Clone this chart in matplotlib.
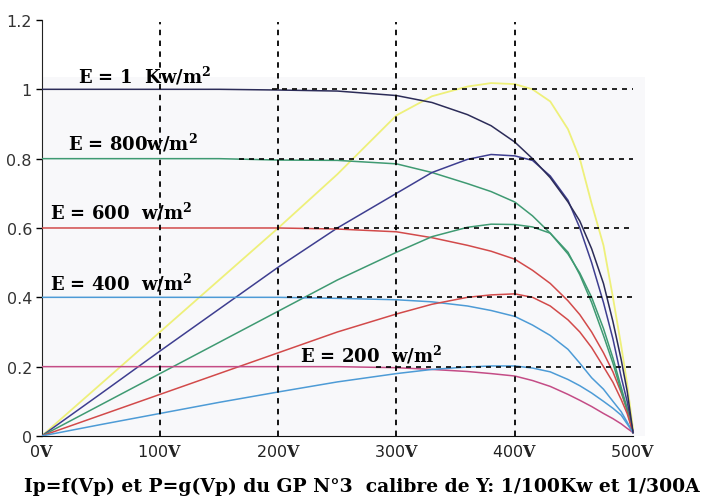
import matplotlib
matplotlib.use("Agg")
import matplotlib.pyplot as plt
from matplotlib.patches import Rectangle

plt.rcParams['mathtext.fontset'] = 'dejavuserif'

# ---- data ----
V = [0, 50, 100, 150, 200, 250, 300, 330, 360, 380, 400, 415, 430, 445, 455, 465, 475, 483, 490, 495, 500]

I_1000 = [1.0, 1.0, 1.0, 1.0, 0.998, 0.995, 0.982, 0.962, 0.927, 0.895, 0.848, 0.80, 0.745, 0.675, 0.62, 0.54, 0.44, 0.33, 0.22, 0.13, 0.01]
P_1000 = [0, 0.15, 0.30, 0.45, 0.60, 0.755, 0.925, 0.98, 1.008, 1.018, 1.015, 1.0, 0.965, 0.885, 0.80, 0.67, 0.55, 0.40, 0.26, 0.15, 0.02]
I_800 = [0.8, 0.8, 0.8, 0.8, 0.796, 0.795, 0.785, 0.76, 0.728, 0.705, 0.675, 0.635, 0.585, 0.525, 0.47, 0.40, 0.31, 0.225, 0.14, 0.08, 0.01]
P_800 = [0, 0.122, 0.245, 0.366, 0.487, 0.60, 0.70, 0.76, 0.798, 0.812, 0.808, 0.795, 0.75, 0.68, 0.60, 0.50, 0.385, 0.28, 0.17, 0.10, 0.01]
I_600 = [0.6, 0.6, 0.6, 0.6, 0.6, 0.597, 0.589, 0.572, 0.55, 0.533, 0.51, 0.478, 0.44, 0.39, 0.35, 0.30, 0.24, 0.185, 0.125, 0.075, 0.01]
P_600 = [0, 0.09, 0.18, 0.27, 0.36, 0.45, 0.53, 0.575, 0.602, 0.611, 0.61, 0.603, 0.585, 0.53, 0.465, 0.385, 0.29, 0.21, 0.13, 0.075, 0.01]
I_400 = [0.4, 0.4, 0.4, 0.4, 0.4, 0.397, 0.393, 0.387, 0.375, 0.362, 0.345, 0.32, 0.29, 0.25, 0.21, 0.168, 0.135, 0.10, 0.07, 0.04, 0.01]
P_400 = [0, 0.06, 0.12, 0.18, 0.24, 0.30, 0.352, 0.38, 0.40, 0.407, 0.41, 0.40, 0.375, 0.335, 0.30, 0.255, 0.20, 0.155, 0.105, 0.065, 0.01]
I_200 = [0.2, 0.2, 0.2, 0.2, 0.2, 0.2, 0.197, 0.192, 0.186, 0.18, 0.173, 0.16, 0.143, 0.12, 0.103, 0.085, 0.065, 0.05, 0.035, 0.022, 0.01]
P_200 = [0, 0.033, 0.065, 0.097, 0.127, 0.156, 0.18, 0.192, 0.199, 0.202, 0.202, 0.196, 0.185, 0.163, 0.145, 0.124, 0.10, 0.08, 0.06, 0.035, 0.01]

ref_levels = [1.0, 0.8, 0.6, 0.4, 0.2]
ref_starts = [195, 167, 222, 207, 283]
vgrid = [100, 200, 300, 400]

labels = ["E = 1  Kw/m", "E = 800w/m", "E = 600  w/m", "E = 400  w/m", "E = 200  w/m"]
label_x = [31, 22, 7, 7, 218]
label_y = [1.008, 0.815, 0.615, 0.413, 0.203]

xticks = [0, 100, 200, 300, 400, 500]
yticks = [0, 0.2, 0.4, 0.6, 0.8, 1.0, 1.2]
ytick_labels = ["0", "0.2", "0.4", "0.6", "0.8", "1", "1.2"]

caption = "Ip=f(Vp) et P=g(Vp) du GP N°3  calibre de Y: 1/100Kw et 1/300A"

# ---- figure ----
fig = plt.figure(figsize=(7.03, 5.02), dpi=100)
ax = fig.add_axes([0.0593, 0.1295, 0.858, 0.8287])
ax.set_xlim(0, 510)
ax.set_ylim(0, 1.2)

ax.add_patch(Rectangle((0, 0), 510, 1.036, facecolor='#f8f8fa', edgecolor='none', zorder=0))

c_navy = '#2c2c58'
c_indigo = '#3e3e90'
c_yellow = '#eef07a'
c_green = '#3f9a72'
c_red = '#d24a4a'
c_lblue = '#4d9bd6'
c_mag = '#c44c86'

ax.plot(V, P_1000, color=c_yellow, lw=1.3, zorder=2)
ax.plot(V, I_800, color=c_green, lw=1.1, zorder=3)
ax.plot(V, P_800, color=c_indigo, lw=1.1, zorder=3)
ax.plot(V, I_600, color=c_red, lw=1.1, zorder=3)
ax.plot(V, P_600, color=c_green, lw=1.1, zorder=3)
ax.plot(V, I_400, color=c_lblue, lw=1.1, zorder=3)
ax.plot(V, P_400, color=c_red, lw=1.1, zorder=3)
ax.plot(V, I_200, color=c_mag, lw=1.1, zorder=3)
ax.plot(V, P_200, color=c_lblue, lw=1.1, zorder=3)
ax.plot(V, I_1000, color=c_navy, lw=1.1, zorder=4)

for lv, st in zip(ref_levels, ref_starts):
    ax.plot([st, 500], [lv, lv], color='black', lw=1.2, dashes=(3, 3), zorder=5)
for xv in vgrid:
    ax.plot([xv, xv], [0, 1.195], color='black', lw=1.3, dashes=(3, 3), zorder=5)

for t, x, y in zip(labels, label_x, label_y):
    ax.text(x, y, t + r"$^{\mathbf{2}}$", family='DejaVu Serif', weight='bold',
            fontsize=13, ha='left', va='bottom', zorder=6)

for s in ['top', 'right']:
    ax.spines[s].set_visible(False)
ax.spines['left'].set_color('#222222')
ax.spines['bottom'].set_color('#111111')
ax.spines['bottom'].set_bounds(0, 500)

ax.set_yticks(yticks)
ax.set_yticklabels(ytick_labels, family='DejaVu Sans', fontsize=11.5, color='#333333')
ax.tick_params(axis='y', length=4, width=1, direction='out', pad=3)
ax.set_xticks(xticks)
ax.set_xticklabels([f"{v}" + r"$\mathbf{V}$" for v in xticks], fontsize=11.5, color='#222222')
ax.tick_params(axis='x', length=0, pad=5)

fig.text(0.515, 0.03, caption, family='DejaVu Serif', weight='bold', fontsize=13.5,
         ha='center', va='center')

fig.savefig('out.png', dpi=100)
